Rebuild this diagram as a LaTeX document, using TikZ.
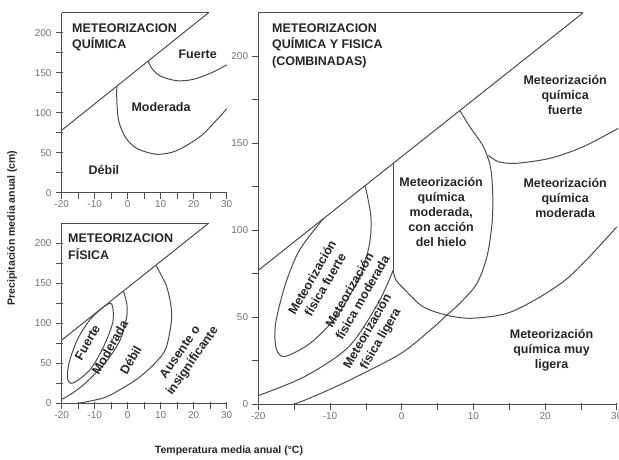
\documentclass[tikz,border=0pt]{standalone}
\usepackage{fontspec}
\setmainfont{Liberation Sans}
\usetikzlibrary{positioning}

\begin{document}
\begin{tikzpicture}[x=1pt,y=1pt,
  curve/.style={draw=black!70,line width=1pt},
  tickmark/.style={draw=black!70,line width=0.7pt},
  ticklabel/.style={font=\fontsize{10}{11}\selectfont,text=black!55,inner sep=1pt},
  ptitle/.style={font=\bfseries\fontsize{12.5}{16.5}\selectfont,text=black!85,align=left,anchor=north west,inner sep=0pt},
  region/.style={font=\bfseries\fontsize{12.5}{15}\selectfont,text=black!85,align=center,inner sep=0pt},
  axislabel/.style={font=\bfseries\fontsize{10.5}{12}\selectfont,text=black!85}]
  \useasboundingbox (0,0) rectangle (619,459);

  % quimica
  \begin{scope}[shift={(127.7pt,266.3pt)},x=3.3pt,y=0.8pt]
    \draw[curve] (-20,225) -- (-20,0) -- (30,0);
    \draw[curve] (-20,225) -- (24.5,225);
    \foreach \t in {-20,-15,...,30} \draw[tickmark] (\t,0) ++(0,1pt) -- ++(0,-7pt);
    \foreach \p in {0,25,...,200} \draw[tickmark] (-20,\p) ++(1pt,0) -- ++(-7pt,0);
    \foreach \t in {-20,-10,...,30} \node[ticklabel,below=7pt] (qx\t) at (\t,0) {\t};
    \foreach \p in {0,50,...,200} \node[ticklabel,left=9pt] (qy\p) at (-20,\p) {\p};
    \draw[curve] (-20,78) -- (24.5,225);
    \draw[curve] plot[smooth] coordinates {(6.2,164.5) (7.3,155.5) (9.8,146) (14.8,140) (19.9,141.7) (26,151) (30,160)};
    \draw[curve] plot[smooth] coordinates {(-3.3,133) (-3.3,116) (-2.8,91) (-0.8,70) (2.7,55.5) (8.8,48) (14.8,52.5) (21.9,70) (27,91) (30,105)};
    \node[ptitle] (qtitle) at (-16.9,211.5) {METEORIZACION\\QUÍMICA};
    \node[region] (qfuerte) at (21.2,173) {Fuerte};
    \node[region] (qmoderada) at (10.1,107) {Moderada};
    \node[region] (qdebil) at (-7.2,28) {Débil};
  \end{scope}

  % fisica
  \begin{scope}[shift={(127.7pt,55.7pt)},x=3.3pt,y=0.8pt]
    \draw[curve] (-20,225) -- (-20,0) -- (30,0);
    \draw[curve] (-20,225) -- (24.5,225);
    \foreach \t in {-20,-15,...,30} \draw[tickmark] (\t,0) ++(0,1pt) -- ++(0,-7pt);
    \foreach \p in {0,25,...,200} \draw[tickmark] (-20,\p) ++(1pt,0) -- ++(-7pt,0);
    \foreach \t in {-20,-10,...,30} \node[ticklabel,below=7pt] (fx\t) at (\t,0) {\t};
    \foreach \p in {0,50,...,200} \node[ticklabel,left=9pt] (fy\p) at (-20,\p) {\p};
    \draw[curve] (-20,79) -- (24.5,225);
    \draw[curve] plot[smooth cycle] coordinates {(-5.2,125) (-10.9,107) (-15.2,80) (-17.8,50) (-18.2,30) (-16.5,25.5) (-11.4,42) (-7.3,71) (-4.5,102)};
    \draw[curve] plot[smooth] coordinates {(-1.3,140.3) (-0.3,125) (-0.3,108) (-2.3,79) (-6.9,50) (-12.9,25) (-17,12) (-20,5)};
    \draw[curve] plot[smooth] coordinates {(8.5,172.5) (11.8,146) (13.3,115) (12.8,90) (10.8,62.5) (3.7,33) (-5.4,10) (-10,4) (-15,0)};
    \node[ptitle] (ftitle) at (-18.1,212) {METEORIZACION\\FÍSICA};
    \node[region,rotate=60] (ffuerte) at (-12.2,76) {Fuerte};
    \node[region,rotate=60] (fmoderada) at (-5.4,70) {Moderada};
    \node[region,rotate=60] (fdebil) at (0.9,54) {Débil};
    \node[region,rotate=55] (fausente) at (17.9,58) {Ausente o\\insignificante};
  \end{scope}

  % combinadas
  \begin{scope}[shift={(401.7pt,54.7pt)},x=7.17pt,y=1.74pt]
    \draw[curve] (-20,225) -- (-20,0) -- (30,0);
    \draw[curve] (-20,225) -- (25.3,225);
    \foreach \t in {-20,-15,...,30} \draw[tickmark] (\t,0) ++(0,1pt) -- ++(0,-7pt);
    \foreach \p in {0,25,...,200} \draw[tickmark] (-20,\p) ++(1pt,0) -- ++(-7pt,0);
    \foreach \t in {-20,-10,...,30} \node[ticklabel,below=7pt] (cx\t) at (\t,0) {\t};
    \foreach \p in {0,50,...,200} \node[ticklabel,left=9pt] (cy\p) at (-20,\p) {\p};
    \draw[curve] (-20,77) -- (25.3,225);
    \draw[curve] plot[smooth] coordinates {(8.1,168.9) (9.5,159.5) (11.4,148) (12.4,136) (12.7,120) (12.6,104) (11.9,85) (10.5,69.5) (8.1,58) (6.3,51.3) (4,42.7) (-0.2,29) (-7.2,14) (-12,5) (-15,0)};
    \draw[curve] plot[smooth] coordinates {(12.1,143) (13.5,139.4) (16,138.5) (20.7,141.4) (25.3,148) (30.2,158.6)};
    \draw[curve] (-1.2,138.5) -- (-1.2,77);
    \draw[curve] plot[smooth] coordinates {(-1.2,77) (-0.8,71.5) (0.4,66) (3,56) (6.5,51) (10,49.5) (15.5,53.5) (23,72) (30,102)};
    \draw[curve] plot[smooth] coordinates {(-1.2,77) (-3.3,58) (-7.4,33) (-13.5,16) (-20,5)};
    \draw[curve] plot[smooth] coordinates {(-10.9,106.8) (-13,96) (-14.6,86) (-16.3,68) (-17.6,46) (-17.5,32) (-16.3,27.5) (-12.8,35) (-9.2,50) (-5.9,73) (-4.5,92) (-4.3,108) (-5.1,125.7)};
    \node[ptitle] (ctitle) at (-18.1,218.9) {METEORIZACION\\QUÍMICA Y FISICA\\(COMBINADAS)};
    \node[region] (cfuerte) at (22.8,177.8) {Meteorización\\química\\fuerte};
    \node[region] (cmoderada) at (22.8,118.6) {Meteorización\\química\\moderada};
    \node[region] (chielo) at (5.5,110.8) {Meteorización\\química\\moderada,\\con acción\\del hielo};
    \node[region] (cligera) at (20.9,31.2) {Meteorización\\química muy\\ligera};
    \node[region,rotate=60] (cffuerte) at (-11.6,70.8) {Meteorización\\física fuerte};
    \node[region,rotate=60] (cfmoderada) at (-6.4,63.6) {Meteorización\\física moderada};
    \node[region,rotate=60] (cfligera) at (-3.8,39.6) {Meteorización\\física ligera};
  \end{scope}

  \node[axislabel,rotate=90] (ylab) at (12,231) {Precipitación media anual (cm)};
  \node[axislabel] (xlab) at (229,8) {Temperatura media anual (°C)};
\end{tikzpicture}
\end{document}
